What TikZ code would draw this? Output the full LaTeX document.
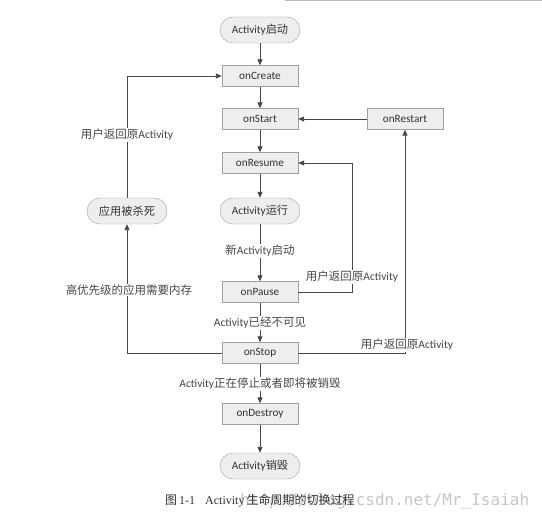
\documentclass[tikz,border=0pt]{standalone}
\usepackage{fontspec}
\setmainfont{Carlito}
\newfontfamily\cjk{Noto Sans CJK SC}
\newfontfamily\capserif{Liberation Serif}
\newfontfamily\wmfont{DejaVu Sans Mono}
\usetikzlibrary{arrows.meta}
\begin{document}
\begin{tikzpicture}[x=1pt,y=-1pt,
  box/.style={draw=gray!75, fill=gray!13, minimum width=76pt, minimum height=21pt, inner sep=0pt,
              font=\fontsize{11.2}{12}\selectfont, text=black!80},
  pill/.style={box, rounded corners=13pt, minimum width=80pt, minimum height=26pt},
  arr/.style={draw=black!72, line width=0.9pt, -{Triangle[length=6pt,width=5pt]}},
  lbl/.style={font=\fontsize{11.5}{12}\selectfont, text=black!72, fill=white, inner sep=1pt}]
\useasboundingbox (0,0) rectangle (542,519);
\fill[white] (0,0) rectangle (542,519);
\fill[gray!55] (285,0) rectangle (542,1.5);

% main column
\node[pill] (start)   at (260,30)  {Activity{\cjk 启动}};
\node[box]  (create)  at (260,76)  {onCreate};
\node[box]  (onstart) at (260,119) {onStart};
\node[box]  (restart) at (405,119) {onRestart};
\node[box]  (resume)  at (260,163) {onResume};
\node[pill] (run)     at (260,211) {Activity{\cjk 运行}};
\node[box]  (pause)   at (260,292) {onPause};
\node[box]  (stop)    at (260,353) {onStop};
\node[box]  (destroy) at (260,414) {onDestroy};
\node[pill] (dead)    at (260,466) {Activity{\cjk 销毁}};
\node[pill] (killed)  at (127,211) {\cjk 应用被杀死};

% vertical chain
\draw[arr] (start) -- (create);
\draw[arr] (create) -- (onstart);
\draw[arr] (onstart) -- (resume);
\draw[arr] (resume) -- (run);
\draw[arr] (run) -- (pause);
\draw[arr] (pause) -- (stop);
\draw[arr] (stop) -- (destroy);
\draw[arr] (destroy) -- (dead);
\draw[arr] (restart) -- (onstart);

% loops
\draw[arr] (pause.east) -- ++(54,0) coordinate (pr) |- (resume.east);
\draw[arr] (stop.east) -| (restart.south);
\draw[arr] (stop.west) -| (killed.south);
\draw[arr] (killed.north) |- (create.west);

% labels
\node[lbl] (l1) at (260,251) {{\cjk 新}Activity{\cjk 启动}};
\node[lbl] (l2) at (260,323) {Activity{\cjk 已经不可见}};
\node[lbl] (l3) at (260,384) {Activity{\cjk 正在停止或者即将被销毁}};
\node[lbl] (l4) at (352,277) {{\cjk 用户返回原}Activity};
\node[lbl] (l5) at (407,345) {{\cjk 用户返回原}Activity};
\node[lbl] (l6) at (127,135) {{\cjk 用户返回原}Activity};
\node[lbl] (l7) at (129,290) {\cjk 高优先级的应用需要内存};

% caption + watermark
\node[anchor=west, inner sep=0pt, text=black!22, font=\wmfont\fontsize{16}{17}\selectfont] (wm) at (240,501) {http://blog.csdn.net/Mr\_Isaiah};
\node[anchor=west, inner sep=0pt, text=black!80, font=\fontsize{12}{13}\selectfont] (cap) at (165,501)
  {{\cjk 图}\,{\capserif 1-1}\hspace{10pt}{\capserif Activity}\,{\cjk 生命周期的切换过程}};
\end{tikzpicture}
\end{document}
